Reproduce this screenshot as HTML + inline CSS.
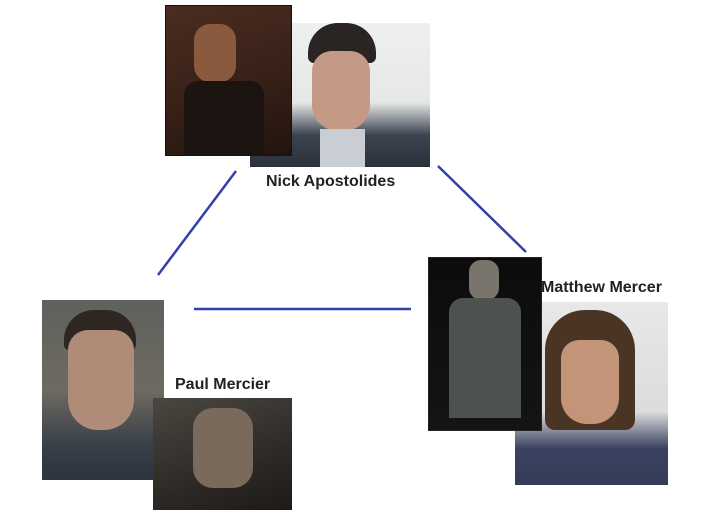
<!DOCTYPE html>
<html><head><meta charset="utf-8"><style>
body{margin:0;width:720px;height:521px;background:#fff;position:relative;overflow:hidden;font-family:"Liberation Sans",sans-serif}
.p{position:absolute}
.t{position:absolute;font-weight:bold;font-size:16px;color:#222}
</style></head><body>
<div class="p" style="left:250px;top:23px;width:180px;height:144px;background:linear-gradient(180deg,#eef0f0 0%,#e6e8e8 55%,#3b4350 78%,#2c323c 100%)">
 <div class="p" style="left:58px;top:0;width:68px;height:40px;background:#2a2422;border-radius:30px 30px 6px 6px"></div>
 <div class="p" style="left:62px;top:28px;width:58px;height:80px;background:#c49a86;border-radius:20px 20px 26px 26px"></div>
 <div class="p" style="left:70px;top:106px;width:45px;height:38px;background:#c9ced4"></div>
</div>
<div class="p" style="left:165px;top:5px;width:125px;height:149px;background:linear-gradient(160deg,#4a2c22 0%,#3a2218 50%,#22140e 100%);border:1px solid #111">
 <div class="p" style="left:28px;top:18px;width:42px;height:58px;background:#8a5a3e;border-radius:16px"></div>
 <div class="p" style="left:18px;top:75px;width:80px;height:74px;background:#1c1410;border-radius:14px 14px 0 0"></div>
</div>
<div class="t" style="left:266px;top:173px">Nick Apostolides</div>
<svg class="p" style="left:0;top:0" width="720" height="521">
<g stroke="#3240a8" stroke-width="2.5">
<line x1="236" y1="171" x2="158" y2="275"/>
<line x1="438" y1="166" x2="526" y2="252"/>
<line x1="194" y1="309" x2="411" y2="309"/>
</g></svg>
<div class="p" style="left:42px;top:300px;width:122px;height:180px;background:linear-gradient(180deg,#5e615c 0%,#6e6a62 50%,#3a4048 80%,#2e3440 100%)">
 <div class="p" style="left:22px;top:10px;width:72px;height:40px;background:#2e2620;border-radius:30px 30px 5px 5px"></div>
 <div class="p" style="left:26px;top:30px;width:66px;height:100px;background:#b08c78;border-radius:20px 20px 30px 30px"></div>
</div>
<div class="p" style="left:153px;top:398px;width:139px;height:112px;background:linear-gradient(160deg,#4a4640 0%,#2e2a26 60%,#1c1a18 100%)">
 <div class="p" style="left:40px;top:10px;width:60px;height:80px;background:#7a6a5c;border-radius:20px"></div>
</div>
<div class="t" style="left:175px;top:376px">Paul Mercier</div>
<div class="p" style="left:515px;top:302px;width:153px;height:183px;background:linear-gradient(180deg,#e8e8e8 0%,#dcdcdc 60%,#3a4260 80%,#343c58 100%)">
 <div class="p" style="left:30px;top:8px;width:90px;height:120px;background:#4a3424;border-radius:40px 40px 10px 10px"></div>
 <div class="p" style="left:46px;top:38px;width:58px;height:84px;background:#c49478;border-radius:18px 18px 26px 26px"></div>
</div>
<div class="p" style="left:428px;top:257px;width:112px;height:172px;background:linear-gradient(180deg,#0c0c0c,#141414);border:1px solid #222">
 <div class="p" style="left:40px;top:2px;width:30px;height:40px;background:#7a756c;border-radius:12px"></div>
 <div class="p" style="left:20px;top:40px;width:72px;height:120px;background:#4e524e;border-radius:14px 14px 0 0"></div>
</div>
<div class="t" style="left:541px;top:279px">Matthew Mercer</div>
</body></html>
